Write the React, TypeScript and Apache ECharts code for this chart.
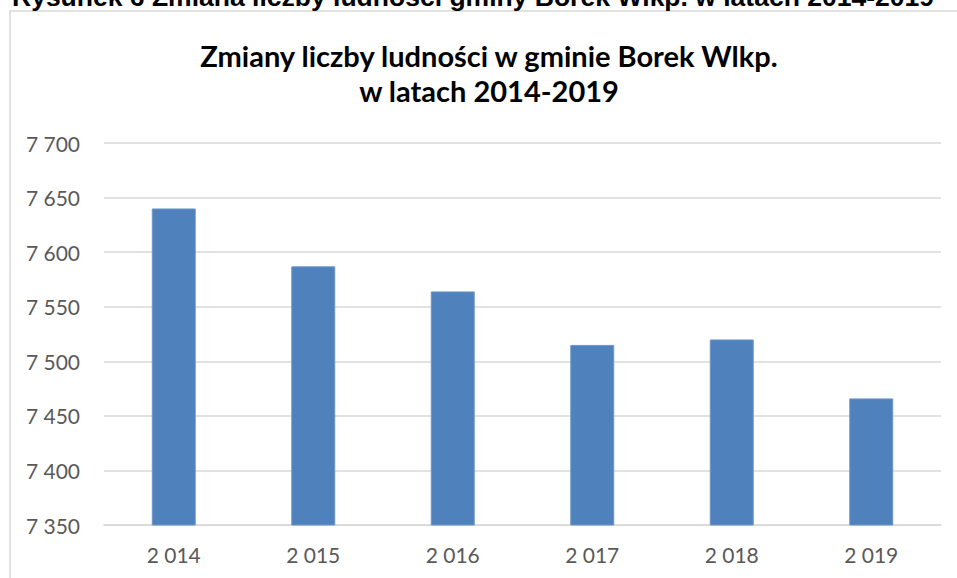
import React, { useEffect, useRef } from "react";
import * as echarts from "echarts";

const years = [2014, 2015, 2016, 2017, 2018, 2019];
const population = [7640, 7587, 7564, 7515, 7520, 7466];
const yMin = 7350;
const yMax = 7700;
const yStep = 50;
const chartTitle = "Zmiany liczby ludności w gminie Borek Wlkp.\nw latach 2014-2019";
const caption = "Rysunek 6 Zmiana liczby ludności gminy Borek Wlkp. w latach 2014-2019";

const spaced = (v: number | string) =>
  String(v).replace(/\B(?=(\d{3})+(?!\d))/g, " ");

export default function App() {
  const ref = useRef<HTMLDivElement>(null);
  useEffect(() => {
    if (!ref.current) return;
    const chart = echarts.init(ref.current, undefined, { renderer: "svg" });
    chart.setOption({
      animation: false,
      backgroundColor: "#ffffff",
      title: {
        text: chartTitle,
        left: 484,
        top: 33,
        textAlign: "center",
        textStyle: {
          fontFamily: "Lato",
          fontWeight: "bold",
          fontSize: 29,
          lineHeight: 35,
          color: "#000000",
        },
      },
      graphic: [
        {
          type: "rect",
          shape: { x: 10, y: 11, width: 980, height: 620 },
          style: { fill: "none", stroke: "#d9d9d9", lineWidth: 1.5 },
          silent: true,
        },
        {
          type: "text",
          x: 12,
          y: -3,
          style: {
            text: caption,
            fontFamily: "Liberation Sans",
            fontWeight: "bold",
            fontSize: 26.5,
            fill: "#000000",
            align: "left",
            verticalAlign: "middle",
          },
          silent: true,
        },
      ],
      grid: { left: 104, right: 16, top: 143, bottom: 53, containLabel: false },
      xAxis: {
        type: "category",
        data: years.map(String),
        axisLine: { lineStyle: { color: "#d9d9d9", width: 1.5 } },
        axisTick: { show: false },
        axisLabel: {
          formatter: (v: string) => spaced(v),
          color: "#595959",
          fontFamily: "Lato",
          fontSize: 21,
          margin: 19,
        },
      },
      yAxis: {
        type: "value",
        min: yMin,
        max: yMax,
        interval: yStep,
        axisLine: { show: false },
        axisTick: { show: false },
        splitLine: { lineStyle: { color: "#d9d9d9", width: 1.5 } },
        axisLabel: {
          formatter: (v: number) => spaced(v),
          color: "#595959",
          fontFamily: "Lato",
          fontSize: 21,
          margin: 24,
        },
      },
      series: [
        {
          type: "bar",
          data: population,
          barWidth: "31.5%",
          itemStyle: { color: "#4f81bd", borderColor: "#6b96c9", borderWidth: 1 },
        },
      ],
    });
    return () => chart.dispose();
  }, []);
  return (
    <div
      ref={ref}
      style={{ position: "fixed", left: 0, top: 0, width: 957, height: 578 }}
    />
  );
}
